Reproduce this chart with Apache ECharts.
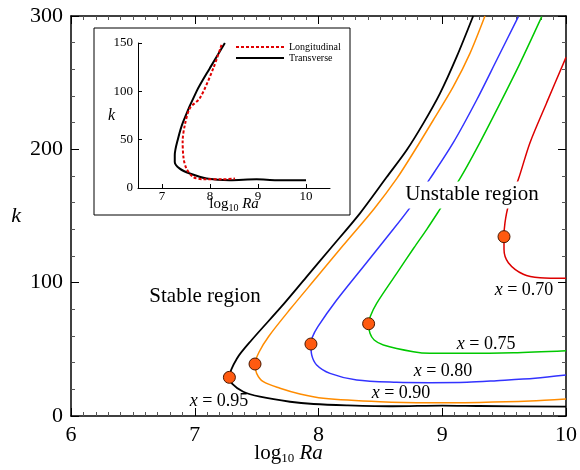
<!DOCTYPE html>
<html><head><meta charset="utf-8">
<script src="https://cdn.jsdelivr.net/npm/echarts@6/dist/echarts.min.js"></script>
<style>html,body{margin:0;padding:0;background:#fff}#main{width:580px;height:470px}</style>
</head><body><div id="main"></div>
<script>
const FONT = '"Liberation Serif","Times New Roman",serif';

// Main chart: neutral curves k vs log10 Ra (path from top of upper branch, through nose, to right end)
const curve095 = [[9.25,300],[9.117,269.5],[8.982,242],[8.847,219.5],[8.713,199.5],[8.55,179],[8.335,152],[8.1,126],[7.9,104],[7.7,82],[7.46,57],[7.34,43],[7.28,29],[7.299,24.5],[7.392,18.2],[7.527,14.5],[7.77,10.7],[7.96,9],[8.228,8],[8.6,7.3],[9.0,7.8],[9.3,7.5],[10,7]];
const curve090 = [[9.345,300],[9.224,272],[9.089,247],[8.928,222],[8.78,199.5],[8.632,178],[8.45,155.5],[8.2,128],[7.985,104],[7.77,80],[7.6,60],[7.52,48],[7.487,39],[7.5,32],[7.554,25.7],[7.689,20.8],[7.85,16.5],[8.039,13.3],[8.497,10.7],[8.9,10],[9.3,10.2],[9.71,11.2],[10,12.7]];
const curve080 = [[9.615,299.5],[9.44,267],[9.278,237],[9.089,205],[8.901,178],[8.753,158],[8.604,140],[8.362,112],[8.147,87],[7.995,67],[7.95,59],[7.939,54],[7.945,45.8],[7.985,38.3],[8.093,32],[8.309,27],[8.632,25.3],[8.9,25],[9.2,25.3],[9.44,26.5],[9.75,28.3],[10,30.7]];
const curve075 = [[9.804,299.5],[9.628,264.5],[9.467,234.5],[9.278,200.5],[9.143,178],[8.995,157],[8.875,140],[8.77,126],[8.632,107],[8.47,84.5],[8.42,75],[8.405,69.2],[8.416,62],[8.45,57],[8.524,53.3],[8.766,48.2],[8.9,47],[9.2,47],[9.574,47.5],[10,49]];
const curve070 = [[10,269],[9.844,235],[9.709,205],[9.615,177.5],[9.534,157.5],[9.507,145],[9.499,134.5],[9.499,125],[9.534,115],[9.655,106.3],[9.79,103.7],[10,103.3]];
const criticalPoints = [[7.28,29],[7.487,39],[7.939,54],[8.405,69.2],[9.499,134.5]];

// Inset
const insetTransverse = [[8.31,150],[7.997,124],[7.72,100],[7.44,68.5],[7.335,51.3],[7.266,34],[7.266,27],[7.37,20],[7.58,15],[7.93,9.8],[8.41,8],[8.97,9],[9.39,8],[10.0,8]];
const insetLongitudinal = [[8.24,148],[8.07,124],[7.79,93],[7.58,82.5],[7.475,65],[7.43,48],[7.45,30.5],[7.51,20],[7.65,11.4],[7.86,9],[8.27,9],[8.52,9.8]];

const insetXTicks = [7,8,9,10];

const curveLabels = [
  {v:'0.95', at:[7.196,11.25]},
  {v:'0.90', at:[8.667,16.9]},
  {v:'0.80', at:[9.006,33.4]},
  {v:'0.75', at:[9.354,54]},
  {v:'0.70', at:[9.661,94.5]}
];
const regionLabels = [
  {text:'Stable region', at:[7.083,89.3], box:false},
  {text:'Unstable region', at:[9.24,165.8], box:true}
];

const chart = echarts.init(document.getElementById('main'));

function mainLine(name, data, color, w){
  return {name, type:'line', data, xAxisIndex:0, yAxisIndex:0, symbol:'none', smooth:0.3,
    lineStyle:{color, width:w}, z:3, silent:true};
}
const axisBase = {
  axisLine:{show:true, onZero:false, lineStyle:{color:'#000', width:1.5}},
  splitLine:{show:false},
  axisTick:{show:true, inside:true, length:8, lineStyle:{color:'#000', width:1}},
  minorTick:{show:true, length:4, lineStyle:{color:'#555', width:1}},
};

const option = {
  animation:false,
  backgroundColor:'#fff',
  grid:[
    {left:71, top:16, width:495, height:400, show:false, containLabel:false, outerBoundsMode:'none'},
    {left:138, top:43, width:192, height:145, show:false, containLabel:false, outerBoundsMode:'none'}
  ],
  legend:{
    data:['Longitudinal','Transverse'], orient:'vertical', left:235, top:42,
    itemWidth:48, itemHeight:8, itemGap:1, padding:0,
    itemStyle:{opacity:0},
    textStyle:{fontFamily:FONT, fontSize:10, color:'#000'}
  },
  xAxis:[
    Object.assign({}, axisBase, {type:'value', gridIndex:0, position:'bottom', min:6, max:10, interval:1,
      minorTick:Object.assign({}, axisBase.minorTick, {splitNumber:10}),
      axisLabel:{fontFamily:FONT, fontSize:22, color:'#000', margin:8},
      name:'{t|log}{s|10}{t| }{i|Ra}', nameLocation:'middle', nameGap:26, nameMoveOverlap:false,
      nameTextStyle:{padding:[0,60,0,0], rich:{
        t:{fontFamily:FONT, fontSize:21, color:'#000'},
        s:{fontFamily:FONT, fontSize:13, color:'#000', padding:[10,0,0,0]},
        i:{fontFamily:FONT, fontSize:21, fontStyle:'italic', color:'#000'}
      }}
    }),
    Object.assign({}, axisBase, {type:'value', gridIndex:0, position:'top', min:6, max:10, interval:1,
      minorTick:Object.assign({}, axisBase.minorTick, {splitNumber:10}),
      axisLabel:{show:false}
    }),
    {type:'value', gridIndex:1, min:6.5, max:10.5,
      axisLine:{show:true, onZero:false, lineStyle:{color:'#000', width:1}},
      splitLine:{show:false},
      axisTick:{show:true, inside:true, length:4, customValues:insetXTicks, lineStyle:{color:'#000'}},
      axisLabel:{customValues:insetXTicks, fontFamily:FONT, fontSize:13, color:'#000', margin:2},
      name:'{t|log}{s|10}{t| }{i|Ra}', nameLocation:'middle', nameGap:8, nameMoveOverlap:false,
      nameTextStyle:{rich:{
        t:{fontFamily:FONT, fontSize:15, color:'#000'},
        s:{fontFamily:FONT, fontSize:10, color:'#000', padding:[7,0,0,0]},
        i:{fontFamily:FONT, fontSize:15, fontStyle:'italic', color:'#000'}
      }}
    }
  ],
  yAxis:[
    Object.assign({}, axisBase, {type:'value', gridIndex:0, position:'left', min:0, max:300, interval:100,
      minorTick:Object.assign({}, axisBase.minorTick, {splitNumber:5}),
      axisLabel:{fontFamily:FONT, fontSize:22, color:'#000', margin:8},
      name:'k', nameLocation:'middle', nameGap:50, nameRotate:0, nameMoveOverlap:false,
      nameTextStyle:{fontFamily:FONT, fontSize:22, fontStyle:'italic', color:'#000'}
    }),
    Object.assign({}, axisBase, {type:'value', gridIndex:0, position:'right', min:0, max:300, interval:100,
      minorTick:Object.assign({}, axisBase.minorTick, {splitNumber:5}),
      axisLabel:{show:false}
    }),
    {type:'value', gridIndex:1, min:0, max:150, interval:50,
      axisLine:{show:true, onZero:false, lineStyle:{color:'#000', width:1}},
      splitLine:{show:false},
      axisTick:{show:true, inside:true, length:4, lineStyle:{color:'#000'}},
      axisLabel:{fontFamily:FONT, fontSize:13, color:'#000', margin:5},
      name:'k', nameLocation:'middle', nameGap:23, nameRotate:0, nameMoveOverlap:false,
      nameTextStyle:{fontFamily:FONT, fontSize:16, fontStyle:'italic', color:'#000'}
    }
  ],
  series:[
    mainLine('x=0.95', curve095, '#000000', 1.8),
    mainLine('x=0.90', curve090, '#ff8c00', 1.5),
    mainLine('x=0.80', curve080, '#3333ff', 1.5),
    mainLine('x=0.75', curve075, '#00c800', 1.5),
    mainLine('x=0.70', curve070, '#dd0000', 1.5),
    {name:'critical', type:'scatter', data:criticalPoints, xAxisIndex:0, yAxisIndex:0,
      symbol:'circle', symbolSize:12, z:5, silent:true,
      itemStyle:{color:'#ff5a10', borderColor:'#4a1800', borderWidth:1, opacity:1}},
    {name:'Longitudinal', type:'line', data:insetLongitudinal, xAxisIndex:2, yAxisIndex:2,
      symbol:'none', smooth:0.3, z:4, lineStyle:{color:'#e00000', width:2, type:[3,2]}, itemStyle:{color:'#e00000'}},
    {name:'Transverse', type:'line', data:insetTransverse, xAxisIndex:2, yAxisIndex:2,
      symbol:'none', smooth:0.3, z:3, lineStyle:{color:'#000', width:2}, itemStyle:{color:'#000'}}
  ]
};
chart.setOption(option);

const g = [
  {type:'rect', z:-1, shape:{x:94, y:28, width:256, height:187},
   style:{fill:'#fff', stroke:'#000', lineWidth:1}}
];
curveLabels.forEach(l => {
  const p = chart.convertToPixel({gridIndex:0}, l.at);
  g.push({type:'text', x:p[0], y:p[1], z:10,
    style:{text:'{i|x} = ' + l.v, fontFamily:FONT, fontSize:18, fill:'#000',
      align:'center', verticalAlign:'middle',
      rich:{i:{fontFamily:FONT, fontSize:18, fontStyle:'italic', fill:'#000'}}}});
});
regionLabels.forEach(l => {
  const p = chart.convertToPixel({gridIndex:0}, l.at);
  const st = {text:l.text, fontFamily:FONT, fontSize:21, fill:'#000', align:'center', verticalAlign:'middle'};
  if (l.box) { st.backgroundColor = '#fff'; st.padding = [3,5,3,5]; }
  g.push({type:'text', x:p[0], y:p[1], z:10, style:st});
});
chart.setOption({graphic:g});
</script></body></html>
